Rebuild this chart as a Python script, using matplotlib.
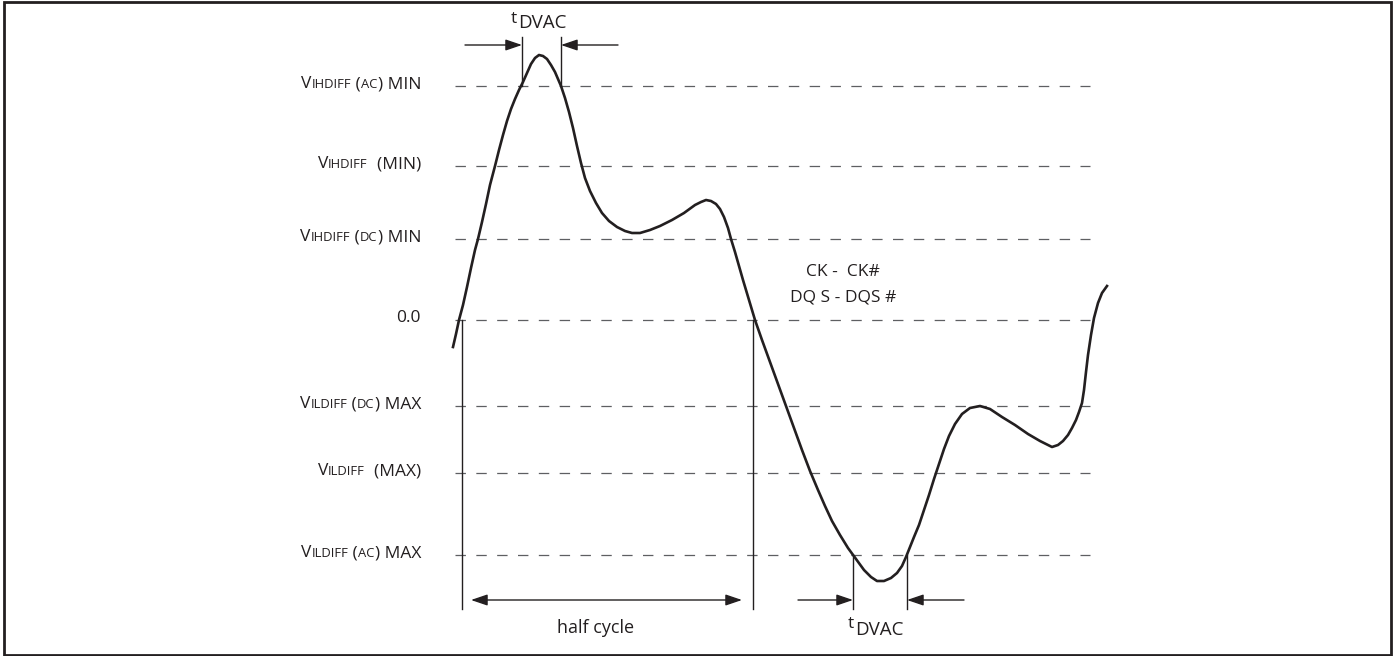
import matplotlib.pyplot as plt
from matplotlib.patches import Rectangle, FancyArrowPatch
from matplotlib.offsetbox import TextArea, HPacker, AnnotationBbox

plt.rcParams['font.family'] = ['Open Sans', 'DejaVu Sans']
plt.rcParams['lines.scale_dashes'] = False

# reference levels (picture units, y grows downward)
level_y = [86, 166, 239, 320, 406, 473, 555]
# each label: list of (text, big?) pieces
level_labels = [
    [("V", True), ("IHDIFF", False), (" (", True), ("AC", False), (") MIN", True)],
    [("V", True), ("IHDIFF", False), ("  (MIN)", True)],
    [("V", True), ("IHDIFF", False), (" (", True), ("DC", False), (") MIN", True)],
    [("0.0", True)],
    [("V", True), ("ILDIFF", False), (" (", True), ("DC", False), (") MAX", True)],
    [("V", True), ("ILDIFF", False), ("  (MAX)", True)],
    [("V", True), ("ILDIFF", False), (" (", True), ("AC", False), (") MAX", True)],
]

# differential waveform CK - CK#
wave_x = [453, 456, 459, 463, 467, 471, 475, 478, 482, 486, 490, 495, 499, 503, 507,
          511, 515, 519, 523, 527, 531, 535, 539, 543, 547, 551, 555, 558, 561, 565,
          569, 573, 577, 581, 585, 590, 596, 602, 609, 617, 625, 632, 640, 650, 660,
          672, 684, 695, 701, 706, 711, 716, 720, 724, 728, 731, 735, 739, 743, 749,
          755, 762, 770, 778, 786, 794, 802, 810, 818, 825, 832, 840, 848, 856, 864,
          871, 877, 884, 891, 897, 902, 906, 910, 914, 919, 924, 929, 934, 939, 944,
          949, 955, 962, 970, 980, 990, 1002, 1015, 1028, 1040, 1052, 1058, 1063, 1068,
          1072, 1076, 1079, 1082, 1084, 1086, 1088, 1091, 1094, 1098, 1102, 1107]
wave_y = [347, 334, 320, 305, 287, 268, 250, 239, 222, 204, 185, 166, 150, 135, 121,
          109, 99, 90, 82, 73, 64, 58, 55, 56, 59, 65, 72, 79, 86, 98,
          112, 128, 146, 163, 178, 191, 203, 213, 221, 227, 231, 233, 233, 230, 226,
          220, 213, 205, 202, 200, 201, 204, 209, 217, 228, 239, 252, 266, 280, 300,
          320, 340, 362, 384, 406, 428, 450, 471, 490, 506, 521, 535, 548, 559, 570,
          577, 581, 581, 578, 573, 566, 557, 547, 537, 525, 510, 495, 479, 464, 449,
          436, 424, 414, 408, 406, 409, 417, 425, 434, 441, 447, 445, 441, 435,
          428, 420, 412, 403, 390, 372, 355, 335, 318, 303, 293, 286]

# timing markers
tdvac_top = [522, 561]
tdvac_bot = [853, 907]
half_cycle = [462, 753]

ink = '#231f20'

fig = plt.figure(figsize=(13.93, 6.56), dpi=100)
ax = fig.add_axes([0, 0, 1, 1])
ax.set_xlim(0, 1393)
ax.set_ylim(656, 0)
ax.axis('off')

ax.add_patch(Rectangle((4, 1.5), 1386.5, 653, fill=False, lw=2.0, edgecolor=ink))

for y in level_y:
    ax.plot([455, 1090], [y, y], color='#5e5f62', lw=0.9, linestyle=(0, (7.5, 7.5)))

for y, parts in zip(level_y, level_labels):
    kids = [TextArea(t, textprops=dict(fontsize=12.5 if big else 9.4, color=ink))
            for t, big in parts]
    box = HPacker(children=kids, align='baseline', pad=0, sep=0)
    ab = AnnotationBbox(box, (421, y), xycoords='data', box_alignment=(1, 0.4),
                        frameon=False, pad=0)
    ax.add_artist(ab)

ax.plot(wave_x, wave_y, color=ink, lw=1.9, solid_joinstyle='round', zorder=5)

# vertical markers
for x in tdvac_top:
    ax.plot([x, x], [37, level_y[0]], color=ink, lw=1.0)
for x in half_cycle:
    ax.plot([x, x], [level_y[3], 609], color=ink, lw=1.0)
for x in tdvac_bot:
    ax.plot([x, x], [level_y[6], 609], color=ink, lw=1.0)

def arrow(x0, x1, y, style='-|>'):
    a = FancyArrowPatch((x0, y), (x1, y), arrowstyle=style + ',head_length=0.5,head_width=0.17',
                        mutation_scale=20, color=ink, lw=1.0, shrinkA=0, shrinkB=0)
    ax.add_patch(a)

arrow(465, tdvac_top[0], 45)
arrow(618, tdvac_top[1], 45)
arrow(471, 742, 600, '<|-|>')
arrow(798, tdvac_bot[0], 600)
arrow(964, tdvac_bot[1], 600)

ax.text(596, 628, 'half cycle', fontsize=13, color=ink, ha='center', va='center')

ax.text(843, 272, 'CK -  CK#', fontsize=12.5, color=ink, ha='center', va='center')
ax.text(843, 297, 'DQ S - DQS #', fontsize=12.5, color=ink, ha='center', va='center')

# t_DVAC labels
ax.text(517, 23, 't', fontsize=12.5, color=ink, ha='right', va='baseline')
ax.text(518, 28, 'DVAC', fontsize=13.5, color=ink, ha='left', va='baseline')
ax.text(854, 628, 't', fontsize=12.5, color=ink, ha='right', va='baseline')
ax.text(855, 635, 'DVAC', fontsize=13.5, color=ink, ha='left', va='baseline')

fig.savefig('out.png', dpi=100)
